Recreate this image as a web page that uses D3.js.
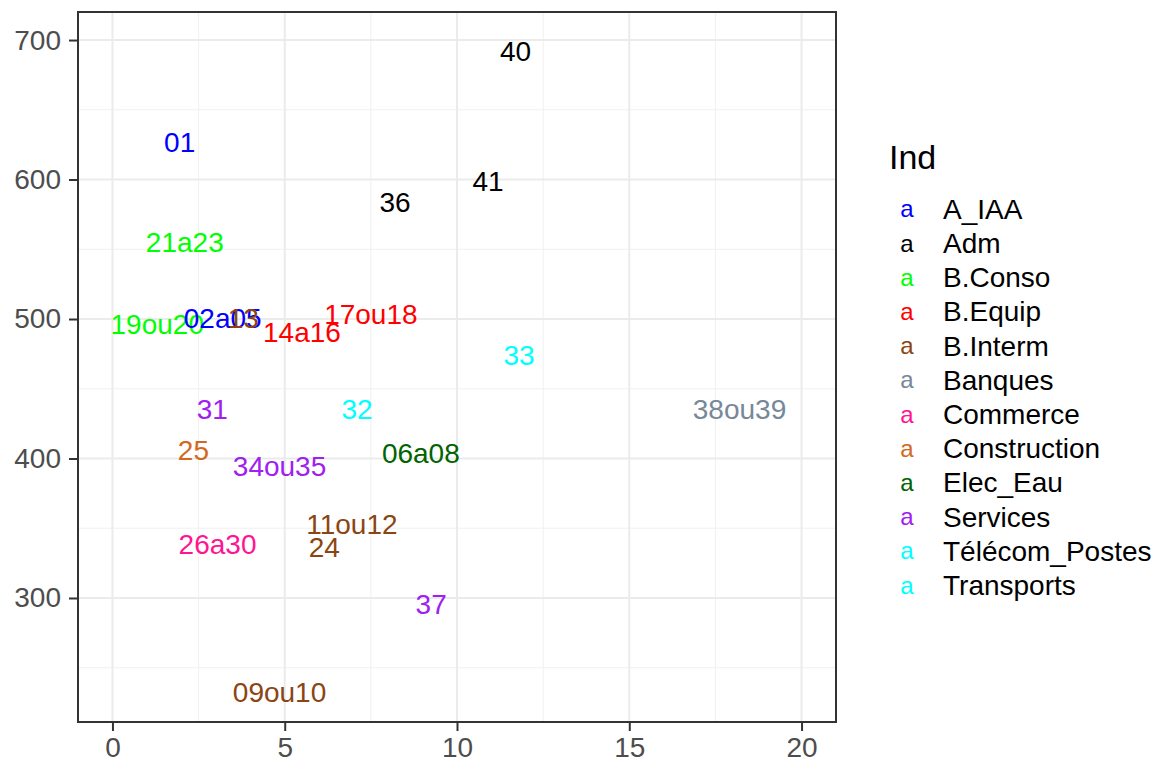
<!DOCTYPE html>
<html><head><meta charset="utf-8">
<script src="https://cdn.jsdelivr.net/npm/d3@7"></script>
<style>body{margin:0;background:#fff;} text{font-family:"Liberation Sans",Arial,sans-serif;}</style>
</head><body><svg id="c" width="1160" height="762"></svg>
<script>
const labels = ["40","01","41","36","21a23","17ou18","19ou20","02a05","13","14a16","33","31","32","38ou39","25","06a08","34ou35","11ou12","24","26a30","37","09ou10"];
const xs = [11.7,1.95,10.9,8.2,2.1,7.5,1.3,3.2,3.8,5.5,11.8,2.9,7.1,18.2,2.35,8.95,4.85,6.95,6.15,3.05,9.25,4.85];
const ys = [692,627,599,584,555,503.5,496.5,500.5,500.5,490.5,474,435,435,435,406,404,394.5,353,336.5,338.5,295.5,232.5];
const inds = ["Adm","A_IAA","Adm","Adm","B.Conso","B.Equip","B.Conso","A_IAA","B.Interm","B.Equip","Télécom_Postes","Services","Transports","Banques","Construction","Elec_Eau","Services","B.Interm","B.Interm","Commerce","Services","B.Interm"];
const categories = ["A_IAA","Adm","B.Conso","B.Equip","B.Interm","Banques","Commerce","Construction","Elec_Eau","Services","Télécom_Postes","Transports"];
const catColors = ["#0000FF","#000000","#00FF00","#FF0000","#8B4513","#778899","#FF1493","#D2691E","#006400","#A020F0","#00FFFF","#00FFFF"];
const xTicks = [0,5,10,15,20];
const yTicks = [300,400,500,600,700];
const xMinor = [2.5,7.5,12.5,17.5];
const yMinor = [250,350,450,550,650];

const svg = d3.select("#c");
const L=78, R=836, T=12, B=722;
const x = d3.scaleLinear().domain([-1,21]).range([L,R]);
const y = d3.scaleLinear().domain([211.1,720.1]).range([B,T]);
const color = d3.scaleOrdinal().domain(categories).range(catColors);

const g = svg.append("g");
// grid
g.selectAll(".xm").data(xMinor).join("line").attr("x1",d=>x(d)).attr("x2",d=>x(d)).attr("y1",T).attr("y2",B).attr("stroke","#F0F0F0").attr("stroke-width",1);
g.selectAll(".ym").data(yMinor).join("line").attr("y1",d=>y(d)).attr("y2",d=>y(d)).attr("x1",L).attr("x2",R).attr("stroke","#F0F0F0").attr("stroke-width",1);
g.selectAll(".xg").data(xTicks).join("line").attr("x1",d=>x(d)).attr("x2",d=>x(d)).attr("y1",T).attr("y2",B).attr("stroke","#EBEBEB").attr("stroke-width",2);
g.selectAll(".yg").data(yTicks).join("line").attr("y1",d=>y(d)).attr("y2",d=>y(d)).attr("x1",L).attr("x2",R).attr("stroke","#EBEBEB").attr("stroke-width",2);

// labels
const data = labels.map((l,i)=>({l, x:xs[i], y:ys[i], ind:inds[i]}));
g.selectAll(".lab").data(data).join("text")
  .attr("x",d=>x(d.x)).attr("y",d=>y(d.y)).attr("dy","0.35em")
  .attr("text-anchor","middle").attr("font-size",28)
  .attr("fill",d=>color(d.ind)).text(d=>d.l);

// border
svg.append("rect").attr("x",L).attr("y",T).attr("width",R-L).attr("height",B-T).attr("fill","none").attr("stroke","#333333").attr("stroke-width",2);

// axes
const xa = svg.append("g").attr("transform",`translate(0,${B})`)
  .call(d3.axisBottom(x).tickValues(xTicks).tickSize(9).tickPadding(6));
const ya = svg.append("g").attr("transform",`translate(${L},0)`)
  .call(d3.axisLeft(y).tickValues(yTicks).tickSize(9).tickPadding(8));
[xa,ya].forEach(a=>{
  a.select(".domain").remove();
  a.selectAll(".tick line").attr("stroke","#333333").attr("stroke-width",2);
  a.selectAll(".tick text").attr("fill","#4D4D4D").attr("font-size",28).style("font-family","Liberation Sans, Arial, sans-serif");
});

// legend
const lg = svg.append("g");
lg.append("text").attr("x",889).attr("y",157).attr("dy","0.35em").attr("font-size",34).attr("fill","#000").text("Ind");
const ly0 = 209, ldy = 34.2;
categories.forEach((c,i)=>{
  lg.append("text").attr("x",907).attr("y",ly0+i*ldy).attr("dy","0.35em").attr("text-anchor","middle").attr("font-size",24).attr("fill",color(c)).text("a");
  lg.append("text").attr("x",943).attr("y",ly0+i*ldy).attr("dy","0.35em").attr("font-size",28).attr("fill","#000").text(c);
});
</script></body></html>
